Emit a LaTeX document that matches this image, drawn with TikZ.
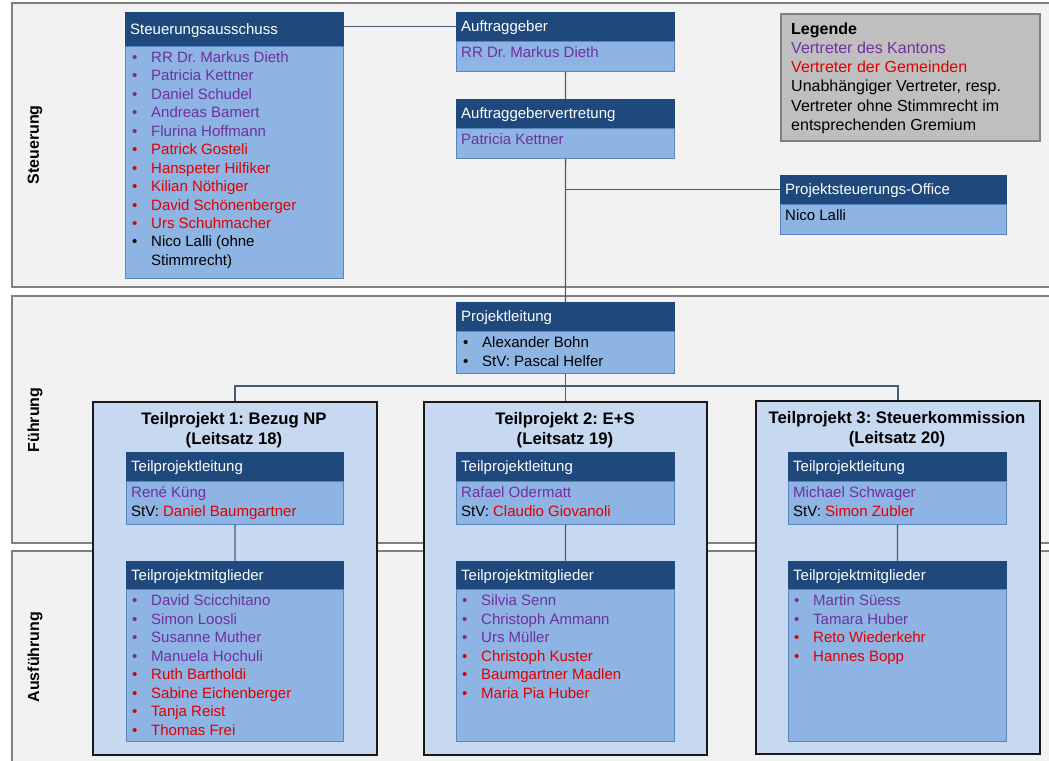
\documentclass[tikz,border=0pt]{standalone}
\usepackage{fontspec}
\setmainfont{Liberation Sans}
\usetikzlibrary{calc}
\definecolor{hdrblue}{HTML}{1F497D}
\definecolor{bodyblue}{HTML}{8DB4E2}
\definecolor{bodyedge}{HTML}{5A84BF}
\definecolor{tpfill}{HTML}{C6D9F1}
\definecolor{panelfill}{HTML}{F2F2F2}
\definecolor{panelline}{HTML}{808080}
\definecolor{legfill}{HTML}{BFBFBF}
\definecolor{kanton}{HTML}{7030A0}
\definecolor{gemeinde}{HTML}{E00000}
\definecolor{connc}{HTML}{4A5A72}
\frenchspacing
\newcommand\pI[1]{\strut\textcolor{kanton}{\makebox[19pt][l]{•}#1}}
\newcommand\rI[1]{\strut\textcolor{gemeinde}{\makebox[19pt][l]{•}#1}}
\newcommand\bI[1]{\strut\makebox[19pt][l]{•}#1}
\newcommand\orgbox[7]{%
  \node[hdr, minimum width=#4, minimum height=#5] (#1) at (#2,#3) {};
  \node[hdrtxt] (#1-h) at (#1.west) {#7};
  \node[bdy, minimum width=#4, minimum height=#6] (#1-b) at (#1.south west) {};
}
\tikzset{
  panel/.style={fill=panelfill, draw=panelline, line width=1.5pt},
  hdr/.style={anchor=north west, fill=hdrblue, draw=hdrblue, inner sep=0pt, line width=0.8pt},
  bdy/.style={anchor=north west, fill=bodyblue, draw=bodyedge, inner sep=0pt, line width=1.2pt},
  hdrtxt/.style={anchor=west, xshift=5pt, text=white, inner sep=0pt, text height=10.8pt, text depth=0pt, font=\fontsize{15}{18}\selectfont},
  lst/.style={anchor=north west, inner sep=0pt, align=left, font=\fontsize{15}{18.45}\selectfont},
  seclabel/.style={rotate=90, inner sep=0pt, font=\fontsize{16}{19}\selectfont\bfseries},
  tpbox/.style={anchor=north west, fill=tpfill, draw=black!90, line width=2.2pt, inner sep=0pt},
  tptitle/.style={align=center, inner sep=0pt, font=\fontsize{16.7}{20}\selectfont\bfseries},
  legbox/.style={anchor=north west, fill=legfill, draw=panelline, line width=2pt, inner sep=0pt},
  legtxt/.style={anchor=north west, inner sep=0pt, align=left, font=\fontsize{16}{19.3}\selectfont},
  connl/.style={draw=connc, line width=1.3pt},
}
\begin{document}
\begin{tikzpicture}[x=1pt,y=-1pt]
\useasboundingbox (0,0) rectangle (1049,760);
\clip (0,0) rectangle (1049,760);
\fill[white] (0,0) rectangle (1049,760);
% panels
\draw[panel] (12,3) rectangle (1070,287);
\draw[panel] (12,296) rectangle (1070,543);
\draw[panel] (12,551) rectangle (1070,780);
\node[seclabel] (lbl-st) at (35,145) {Steuerung};
\node[seclabel] (lbl-fu) at (35,420) {Führung};
\node[seclabel] (lbl-au) at (35,657) {Ausführung};
% legend
\node[legbox, minimum width=259, minimum height=127] (leg) at (780,13) {};
\node[legtxt] (leg-t) at ([shift={(11,7.3)}]leg.north west) {\strut\textbf{Legende}\\
\strut\textcolor{kanton}{Vertreter des Kantons}\\
\strut\textcolor{gemeinde}{Vertreter der Gemeinden}\\
\strut Unabhängiger Vertreter, resp.\\
\strut Vertreter ohne Stimmrecht im\\
\strut entsprechenden Gremium};
% Steuerung
\orgbox{sa}{125}{12}{218}{33}{232}{Steuerungsausschuss}
\node[lst] (sa-t) at ([shift={(7,3.5)}]sa-b.north west) {\pI{RR Dr. Markus Dieth}\\
\pI{Patricia Kettner}\\ \pI{Daniel Schudel}\\ \pI{Andreas Bamert}\\ \pI{Flurina Hoffmann}\\
\rI{Patrick Gosteli}\\ \rI{Hanspeter Hilfiker}\\ \rI{Kilian Nöthiger}\\ \rI{David Schönenberger}\\
\rI{Urs Schuhmacher}\\ \bI{Nico Lalli (ohne}\\ \strut\hspace*{19pt}Stimmrecht)};
\orgbox{ag}{456}{12}{218}{28}{30}{Auftraggeber}
\node[lst] (ag-t) at ([shift={(5,4)}]ag-b.north west) {\strut\textcolor{kanton}{RR Dr. Markus Dieth}};
\orgbox{av}{456}{99}{218}{28}{30}{Auftraggebervertretung}
\node[lst] (av-t) at ([shift={(5,4)}]av-b.north west) {\strut\textcolor{kanton}{Patricia Kettner}};
\orgbox{pso}{780}{175}{226}{28}{30}{Projektsteuerungs-Office}
\node[lst] (pso-t) at ([shift={(5,4)}]pso-b.north west) {\strut Nico Lalli};
% Fuehrung
\orgbox{pl}{456}{302}{218}{28}{42}{Projektleitung}
\node[lst] (pl-t) at ([shift={(7,4)}]pl-b.north west) {\bI{Alexander Bohn}\\ \bI{StV: Pascal Helfer}};
% Teilprojekte
\node[tpbox, minimum width=284, minimum height=353] (tp1) at (92,401) {};
\node[tpbox, minimum width=283, minimum height=353] (tp2) at (423,401) {};
\node[tpbox, minimum width=284, minimum height=353] (tp3) at (755,400) {};
\node[tptitle] (tp1-ti) at (234,430) {\strut Teilprojekt 1: Bezug NP\\\strut(Leitsatz 18)};
\node[tptitle] (tp2-ti) at (565,430) {\strut Teilprojekt 2: E+S\\\strut(Leitsatz 19)};
\node[tptitle] (tp3-ti) at (897,429) {\strut Teilprojekt 3: Steuerkommission\\\strut(Leitsatz 20)};
\orgbox{tl1}{126}{452}{217}{28}{43}{Teilprojektleitung}
\node[lst] (tl1-t) at ([shift={(5,4)}]tl1-b.north west) {\strut\textcolor{kanton}{René Küng}\\ \strut StV: \textcolor{gemeinde}{Daniel Baumgartner}};
\orgbox{tm1}{126}{561}{217}{27}{152}{Teilprojektmitglieder}
\node[lst] (tm1-t) at ([shift={(6,4)}]tm1-b.north west) {\pI{David Scicchitano}\\ \pI{Simon Loosli}\\ \pI{Susanne Muther}\\ \pI{Manuela Hochuli}\\
\rI{Ruth Bartholdi}\\ \rI{Sabine Eichenberger}\\ \rI{Tanja Reist}\\ \rI{Thomas Frei}};
\orgbox{tl2}{456}{452}{218}{28}{43}{Teilprojektleitung}
\node[lst] (tl2-t) at ([shift={(5,4)}]tl2-b.north west) {\strut\textcolor{kanton}{Rafael Odermatt}\\ \strut StV: \textcolor{gemeinde}{Claudio Giovanoli}};
\orgbox{tm2}{456}{561}{218}{27}{152}{Teilprojektmitglieder}
\node[lst] (tm2-t) at ([shift={(6,4)}]tm2-b.north west) {\pI{Silvia Senn}\\ \pI{Christoph Ammann}\\ \pI{Urs Müller}\\
\rI{Christoph Kuster}\\ \rI{Baumgartner Madlen}\\ \rI{Maria Pia Huber}};
\orgbox{tl3}{788}{452}{218}{28}{43}{Teilprojektleitung}
\node[lst] (tl3-t) at ([shift={(5,4)}]tl3-b.north west) {\strut\textcolor{kanton}{Michael Schwager}\\ \strut StV: \textcolor{gemeinde}{Simon Zubler}};
\orgbox{tm3}{788}{561}{218}{27}{152}{Teilprojektmitglieder}
\node[lst] (tm3-t) at ([shift={(6,4)}]tm3-b.north west) {\pI{Martin Süess}\\ \pI{Tamara Huber}\\
\rI{Reto Wiederkehr}\\ \rI{Hannes Bopp}};
% connectors
\draw[connl] (ag.west) -- (ag.west -| sa.east);
\draw[connl] (ag-b.south) -- (av.north);
\draw[connl] (av-b.south) -- (pl.north);
\draw[connl] (pso.west) -- (pso.west -| av-b.south);
\draw[connl] (pl-b.south) -- (tp2.north);
\coordinate (bus) at (565,386);
\draw[connl] (tp1.north) |- (bus) -| (tp3.north);
\draw[connl] (tl1-b.south) -- (tm1.north);
\draw[connl] (tl2-b.south) -- (tm2.north);
\draw[connl] (tl3-b.south) -- (tm3.north);
\end{tikzpicture}
\end{document}
